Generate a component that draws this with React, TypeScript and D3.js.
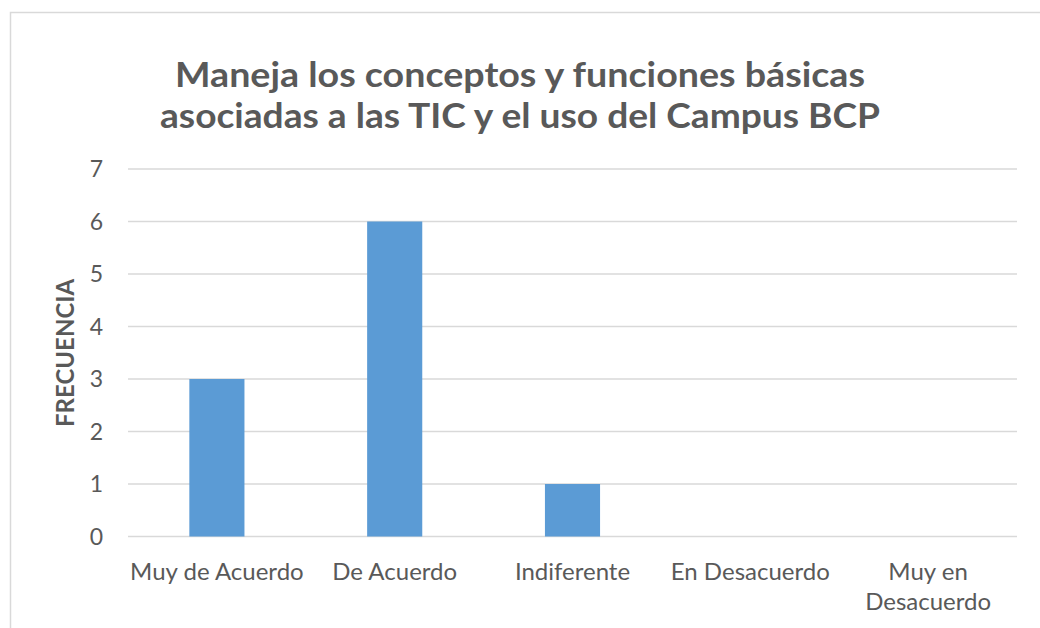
import React from "react";
import * as d3 from "d3";

const categories = ["Muy de Acuerdo", "De Acuerdo", "Indiferente", "En Desacuerdo", "Muy en Desacuerdo"];
const categoryLines = [["Muy de Acuerdo"], ["De Acuerdo"], ["Indiferente"], ["En Desacuerdo"], ["Muy en", "Desacuerdo"]];
const values = [3, 6, 1, 0, 0];
const yTicks = [0, 1, 2, 3, 4, 5, 6, 7];
const titleLines = ["Maneja los conceptos y funciones básicas", "asociadas a las TIC y el uso del Campus BCP"];
const yAxisTitle = "FRECUENCIA";

const W = 1040;
const H = 628;
const plot = { left: 128, right: 1017, top: 169, bottom: 536.5 };
const textColor = "#595959";
const font = "Lato, 'Open Sans', sans-serif";

export default function App() {
  const x = d3.scaleBand<string>().domain(categories).range([plot.left, plot.right]).paddingInner(0.69).paddingOuter(0.345);
  const y = d3.scaleLinear().domain([0, 7]).range([plot.bottom, plot.top]);
  const band = (plot.right - plot.left) / categories.length;
  return (
    <svg width={W} height={H} style={{ position: "absolute", left: 0, top: 0, background: "#fff" }}>
      <rect x={10.5} y={12.5} width={1100} height={700} fill="#fff" stroke="#d9d9d9" strokeWidth={1.5} />
      <g fontFamily={font} fill={textColor} fontWeight="bold" textAnchor="middle">
        <text x={520} y={87} fontSize={34} textLength={690} lengthAdjust="spacingAndGlyphs">{titleLines[0]}</text>
        <text x={520} y={128} fontSize={34} textLength={720} lengthAdjust="spacingAndGlyphs">{titleLines[1]}</text>
      </g>
      <g>
        {yTicks.map((t) => (
          <line key={t} x1={plot.left} x2={plot.right} y1={y(t)} y2={y(t)} stroke="#d9d9d9" strokeWidth={1.5} />
        ))}
      </g>
      <g fontFamily={font} fill={textColor} fontSize={23} textAnchor="end">
        {yTicks.map((t) => (
          <text key={t} x={103} y={y(t) + 8}>{t}</text>
        ))}
      </g>
      <text
        transform={`translate(74,353) rotate(-90)`}
        textAnchor="middle"
        fontFamily={font}
        fontWeight="bold"
        fontSize={24}
        fill={textColor}
      >
        {yAxisTitle}
      </text>
      <g>
        {categories.map((c, i) => (
          <rect key={c} x={x(c)} y={y(values[i])} width={x.bandwidth()} height={y(0) - y(values[i])} fill="#5b9bd5" />
        ))}
      </g>
      <g fontFamily={font} fill={textColor} fontSize={24} textAnchor="middle">
        {categories.map((c, i) => (
          <text key={c} x={plot.left + band * (i + 0.5)} y={580}>
            {categoryLines[i].map((l, j) => (
              <tspan key={j} x={plot.left + band * (i + 0.5)} dy={j === 0 ? 0 : 30}>{l}</tspan>
            ))}
          </text>
        ))}
      </g>
    </svg>
  );
}
